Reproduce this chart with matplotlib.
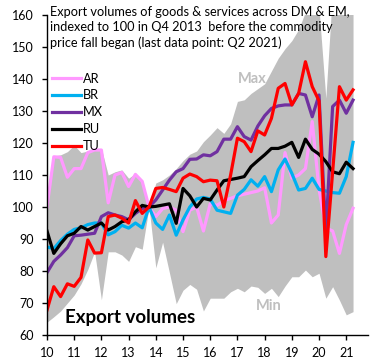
import numpy as np
import matplotlib
matplotlib.use("Agg")
from matplotlib import pyplot as plt

plt.rcParams['font.family'] = ['Lato', 'DejaVu Sans']

# quarterly, 2010Q1 .. 2021Q2
years = 10 + np.arange(46) / 4.0

ar = [100, 115.7, 115.5, 109.3, 112, 112, 117, 117.8, 117.8, 101.3, 110, 110.8, 106.4, 110.2, 108, 100,
      97, 99.5, 100, 99, 92.3, 99, 100, 92.5, 101, 100.5, 102, 102.7, 103.5, 104, 104.5, 105,
      106, 95, 97.5, 117, 109, 110, 112, 126.7, 105.5, 93.5, 92.5, 85.5, 94.5, 99.6]
br = [87.5, 87, 89.5, 91.5, 93, 93.5, 94.5, 95, 95, 91.3, 92.3, 94.3, 93.4, 95, 93.5, 100,
      95, 93, 97.5, 91.2, 96, 100, 102.5, 103, 102.5, 99, 98.5, 98, 103.7, 105.5, 108.5, 106.5,
      109.5, 104.8, 111.6, 115, 110.5, 105.3, 105.8, 109, 105.5, 105, 104.5, 104.3, 109.5, 120.2]
mx = [79.5, 83, 85, 87.3, 91, 91.2, 91.5, 91.8, 97, 98.2, 97.5, 97, 96, 98, 99.5, 100,
      102.2, 105.3, 108.4, 111, 112, 114.9, 115, 116.3, 116, 117.3, 121.2, 121.2, 125.1, 122, 120.9, 125.3,
      128.5, 130.8, 131.6, 131.9, 131.9, 135.5, 135, 128.2, 135, 92, 131.4, 133.4, 129.3, 133.4]
ru = [92.5, 85.5, 88.5, 91, 91.8, 93.9, 92.8, 93.9, 95, 92.8, 93.9, 95.4, 96, 98.5, 100.5, 100,
      100.2, 100.6, 101, 94.9, 105.8, 103.5, 100, 102.7, 102.2, 105.3, 108.2, 108.6, 109, 109.5, 112.6, 114.5,
      116.3, 118.3, 118.3, 119, 120.2, 115.5, 121.2, 118, 116.5, 114.2, 111, 110.4, 114, 112]
tu = [67.8, 75.1, 72, 76, 75.2, 78, 89.7, 85.6, 85.7, 97, 97.5, 96.5, 95, 102, 98, 100,
      105.8, 106.1, 105.5, 104.8, 109, 110.3, 109.5, 107.9, 108.4, 108.2, 100, 110, 121.5, 120.4, 117.3, 123.8,
      122.5, 127.7, 137.1, 138.6, 131.9, 135.5, 145.4, 137.6, 133.2, 84.5, 111, 137.6, 133.4, 136.6]

# range across all DM & EM
hi = [101, 116, 116.3, 117.3, 119.3, 117, 117.5, 118, 118.3, 110, 111, 111.6, 109, 110.5, 108.4, 100,
      107.5, 108.5, 110, 112, 114.5, 116.5, 117.5, 120.4, 122.5, 124.8, 123, 126, 133, 133.5, 135.5, 137,
      138.5, 142.5, 146.5, 149.5, 152, 155.5, 161, 164, 162, 134, 168, 166, 163, 165]
lo = [64, 65.7, 67.5, 70, 72.5, 76, 80.5, 86, 71, 86, 86, 85, 83, 87.6, 86.8, 100,
      81, 89, 79.5, 69.8, 74, 75.8, 74.3, 67.5, 71.5, 71.5, 71.5, 73.5, 74.6, 73.5, 75.3, 74.9,
      73, 74.6, 72, 75.3, 78.2, 78.2, 80.3, 78.2, 79.3, 71.5, 75.1, 70.9, 66.3, 67.3]

names = ['AR', 'BR', 'MX', 'RU', 'TU']
colors = ['#FF99FF', '#00B0F0', '#7030A0', '#000000', '#FF0000']

fig = plt.figure(figsize=(3.83, 3.6), dpi=100)
ax = fig.add_axes([47/383, 25/360, 321/383, 320/360])

ax.fill_between(years, lo, hi, color='#BFBFBF', lw=0)
for vals, name, c in zip([ar, br, mx, ru, tu], names, colors):
    ax.plot(years, vals, color=c, lw=2.3, label=name)

ax.set_xlim(10, 21.8)
ax.set_ylim(60, 160)
ax.set_xticks(range(10, 22))
ax.set_xticklabels([str(y) for y in range(10, 22)])
ax.set_yticks(range(60, 161, 10))
ax.tick_params(direction='out', length=3.5, width=1, labelsize=9, pad=5)
ax.tick_params(axis='y', pad=6)
for s in ['top', 'right']:
    ax.spines[s].set_visible(False)
for s in ['left', 'bottom']:
    ax.spines[s].set_linewidth(1)

fig.text(50/383, 1 - 6/360,
         "Export volumes of goods & services across DM & EM,\n"
         "indexed to 100 in Q4 2013  before the commodity\n"
         "price fall began (last data point: Q2 2021)",
         ha='left', va='top', fontsize=9.2, linespacing=1.3)

ax.text(0.64, 0.8, 'Max', transform=ax.transAxes, ha='center', va='center',
        fontsize=10.5, fontweight='bold', color='#BFBFBF')
ax.text(0.69, 0.09, 'Min', transform=ax.transAxes, ha='center', va='center',
        fontsize=10.5, fontweight='bold', color='#BFBFBF')
ax.text(0.055, 0.038, 'Export volumes', transform=ax.transAxes, ha='left', va='baseline',
        fontsize=13.5, fontweight='bold', color='black')

ax.legend(loc='upper left', bbox_to_anchor=(0.015, 0.82), frameon=False, fontsize=9.2,
          handlelength=2.3, handletextpad=0.1, labelspacing=0.38, borderpad=0, borderaxespad=0)

fig.savefig('out.png', dpi=100)
